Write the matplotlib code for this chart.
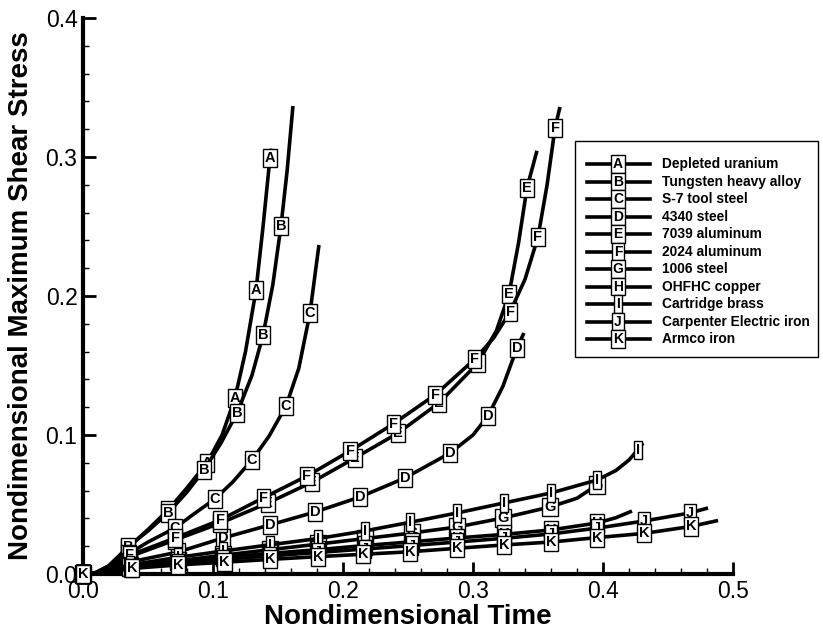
import matplotlib.pyplot as plt
from matplotlib.patches import Rectangle
from matplotlib.lines import Line2D
from matplotlib.ticker import MultipleLocator

plt.rcParams['font.family'] = ['Liberation Sans', 'DejaVu Sans']

# series letters and names (legend)
letters = ['A', 'B', 'C', 'D', 'E', 'F', 'G', 'H', 'I', 'J', 'K']
names = ['Depleted uranium', 'Tungsten heavy alloy', 'S-7 tool steel', '4340 steel',
         '7039 aluminum', '2024 aluminum', '1006 steel', 'OHFHC copper',
         'Cartridge brass', 'Carpenter Electric iron', 'Armco iron']

# values (nondimensional time, nondimensional max shear stress)
a_x = [0, 0.01, 0.02, 0.0346, 0.05, 0.0654, 0.08, 0.0954, 0.107, 0.1169, 0.125, 0.1331, 0.1385, 0.1438, 0.145]
a_y = [0, 0.001, 0.006, 0.019, 0.032, 0.046, 0.062, 0.080, 0.100, 0.1266, 0.160, 0.2043, 0.250, 0.2993, 0.306]
a_m = [0, 3, 5, 7, 9, 11, 13]

b_x = [0, 0.01, 0.02, 0.0346, 0.05, 0.0654, 0.08, 0.0931, 0.106, 0.1185, 0.13, 0.1385, 0.146, 0.1523, 0.157, 0.1615]
b_y = [0, 0.001, 0.006, 0.0194, 0.031, 0.0439, 0.059, 0.0748, 0.094, 0.1158, 0.143, 0.1719, 0.208, 0.2504, 0.29, 0.3367]
b_m = [0, 3, 5, 7, 9, 11, 13]

c_x = [0, 0.01, 0.02, 0.035, 0.05, 0.0708, 0.085, 0.1015, 0.115, 0.130, 0.143, 0.1562, 0.166, 0.1746, 0.1815]
c_y = [0, 0.001, 0.005, 0.0145, 0.023, 0.0331, 0.043, 0.054, 0.066, 0.082, 0.099, 0.1209, 0.148, 0.1878, 0.2367]
c_m = [0, 3, 5, 7, 9, 11, 13]

d_x = [0, 0.01, 0.02, 0.0355, 0.0731, 0.1077, 0.1438, 0.1785, 0.2131, 0.2477, 0.2823, 0.30, 0.3115, 0.323, 0.3338, 0.3392]
d_y = [0, 0.0008, 0.004, 0.0085, 0.0158, 0.0259, 0.0353, 0.0446, 0.0554, 0.0691, 0.087, 0.100, 0.1137, 0.135, 0.1626, 0.1734]
d_m = [0, 3, 4, 5, 6, 7, 8, 9, 10, 12, 14]

e_x = [0, 0.01, 0.02, 0.036, 0.0708, 0.1054, 0.1423, 0.176, 0.2092, 0.2423, 0.2738, 0.3038, 0.318, 0.3277, 0.335, 0.3415, 0.3492]
e_y = [0, 0.0008, 0.004, 0.0125, 0.0245, 0.0365, 0.0511, 0.066, 0.0835, 0.1014, 0.123, 0.1518, 0.175, 0.2014, 0.238, 0.2777, 0.3045]
e_m = [0, 3, 4, 5, 6, 7, 8, 9, 10, 11, 13, 15]

f_x = [0, 0.01, 0.02, 0.036, 0.0708, 0.1054, 0.1385, 0.1723, 0.2054, 0.2385, 0.2708, 0.3015, 0.316, 0.3285, 0.34, 0.35, 0.357, 0.3631, 0.3669]
f_y = [0, 0.0008, 0.0045, 0.0135, 0.0259, 0.0388, 0.0547, 0.0705, 0.0885, 0.1079, 0.1288, 0.1547, 0.170, 0.1885, 0.212, 0.2424, 0.28, 0.3209, 0.336]
f_m = [0, 3, 4, 5, 6, 7, 8, 9, 10, 11, 13, 15, 17]

g_x = [0, 0.01, 0.02, 0.036, 0.073, 0.1077, 0.1438, 0.1808, 0.2169, 0.2531, 0.2877, 0.3231, 0.3592, 0.38, 0.3954, 0.399]
g_y = [0, 0.0005, 0.0025, 0.0055, 0.0095, 0.0135, 0.0175, 0.0215, 0.0255, 0.0295, 0.0338, 0.0403, 0.0482, 0.0545, 0.064, 0.0665]
g_m = [0, 3, 4, 5, 6, 7, 8, 9, 10, 11, 12, 14]

h_x = [0, 0.01, 0.02, 0.036, 0.073, 0.1077, 0.1438, 0.1808, 0.2169, 0.2531, 0.2877, 0.3238, 0.36, 0.3954, 0.41, 0.4223]
h_y = [0, 0.0004, 0.002, 0.005, 0.009, 0.012, 0.0148, 0.0175, 0.0205, 0.0232, 0.0259, 0.0285, 0.0317, 0.0367, 0.0405, 0.0453]
h_m = [0, 3, 4, 5, 6, 7, 8, 9, 10, 11, 12, 13]

i_x = [0, 0.01, 0.02, 0.036, 0.073, 0.1077, 0.1438, 0.1808, 0.2169, 0.2515, 0.2877, 0.3238, 0.36, 0.3954, 0.41, 0.42, 0.4269, 0.4308]
i_y = [0, 0.0005, 0.0028, 0.0065, 0.012, 0.0165, 0.021, 0.0255, 0.031, 0.0372, 0.0439, 0.0511, 0.0583, 0.0676, 0.0745, 0.082, 0.0895, 0.0942]
i_m = [0, 3, 4, 5, 6, 7, 8, 9, 10, 11, 12, 13, 16]

j_x = [0, 0.01, 0.02, 0.036, 0.073, 0.1077, 0.1438, 0.1808, 0.2169, 0.2531, 0.2877, 0.3238, 0.36, 0.3954, 0.4315, 0.4669, 0.4808]
j_y = [0, 0.0004, 0.0018, 0.0045, 0.008, 0.0105, 0.013, 0.0155, 0.018, 0.0205, 0.023, 0.0257, 0.0288, 0.033, 0.0381, 0.0439, 0.0475]
j_m = [0, 3, 4, 5, 6, 7, 8, 9, 10, 11, 12, 13, 14, 15]

k_x = [0, 0.01, 0.02, 0.0377, 0.073, 0.109, 0.1438, 0.1808, 0.2154, 0.2515, 0.2877, 0.3238, 0.36, 0.3954, 0.4315, 0.4677, 0.4885]
k_y = [0, 0.0003, 0.0015, 0.004, 0.0065, 0.0085, 0.0105, 0.0125, 0.0142, 0.016, 0.0185, 0.0209, 0.023, 0.0262, 0.0292, 0.0342, 0.0385]
k_m = [0, 3, 4, 5, 6, 7, 8, 9, 10, 11, 12, 13, 14, 15]

xs = [a_x, b_x, c_x, d_x, e_x, f_x, g_x, h_x, i_x, j_x, k_x]
ys = [a_y, b_y, c_y, d_y, e_y, f_y, g_y, h_y, i_y, j_y, k_y]
marks = [a_m, b_m, c_m, d_m, e_m, f_m, g_m, h_m, i_m, j_m, k_m]

W, H = 823, 644
fig = plt.figure(figsize=(W / 100, H / 100), dpi=100)
ax = fig.add_axes([83 / W, 1 - 574 / H, 650 / W, 556 / H])

box = dict(boxstyle='square,pad=0.14', fc='white', ec='black', lw=1.0)

for n in range(len(letters)):
    z = 3 + n
    ax.plot(xs[n], ys[n], color='black', lw=2.6, solid_capstyle='butt', zorder=z)
    for m in marks[n]:
        ax.text(xs[n][m], ys[n][m], letters[n], ha='center', va='center', fontsize=10.5,
                fontweight='bold', bbox=box, zorder=z + 0.5, clip_on=False)

ax.set_xlim(0, 0.5)
ax.set_ylim(0, 0.4)
ax.xaxis.set_major_locator(MultipleLocator(0.1))
ax.xaxis.set_minor_locator(MultipleLocator(0.02))
ax.yaxis.set_major_locator(MultipleLocator(0.1))
ax.yaxis.set_minor_locator(MultipleLocator(0.02))
ax.xaxis.set_major_formatter(plt.FormatStrFormatter('%.1f'))
ax.yaxis.set_major_formatter(plt.FormatStrFormatter('%.1f'))
ax.tick_params(which='both', direction='in', labelsize=16.5, pad=4)
ax.tick_params(which='major', length=9, width=2)
ax.tick_params(which='minor', length=4.5, width=1)
for s in ['top', 'right']:
    ax.spines[s].set_visible(False)
for s in ['left', 'bottom']:
    ax.spines[s].set_linewidth(3)
ax.set_xlabel('Nondimensional Time', fontsize=20, fontweight='bold', labelpad=1)
ax.set_ylabel('Nondimensional Maximum Shear Stress', fontsize=20, fontweight='bold', labelpad=8)

# legend drawn in pixel coordinates
lax = fig.add_axes([0, 0, 1, 1], zorder=20)
lax.set_xlim(0, W)
lax.set_ylim(H, 0)
lax.axis('off')
lax.patch.set_alpha(0)
lax.add_patch(Rectangle((575, 141), 243, 216, fc='white', ec='black', lw=1))
for n in range(len(letters)):
    yy = 164 + 17.5 * n
    lax.add_line(Line2D([587, 650], [yy, yy], color='black', lw=2.6))
    lax.text(618, yy, letters[n], ha='center', va='center', fontsize=10, fontweight='bold', bbox=box)
    lax.text(662, yy, names[n], ha='left', va='center', fontsize=9.9, fontweight='bold')

fig.savefig('out.png', dpi=100)
